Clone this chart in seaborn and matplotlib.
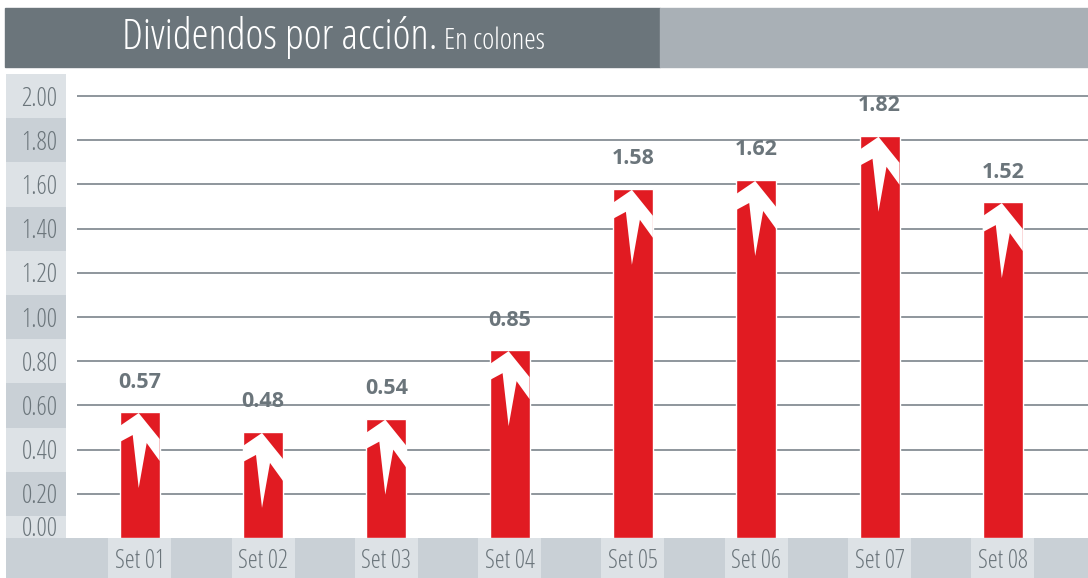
import numpy as np
import matplotlib
matplotlib.use("Agg")
import matplotlib.pyplot as plt
import matplotlib.patches as mpatches
import matplotlib.transforms as mtrans
import seaborn as sns

# data
categories = ["Set 01", "Set 02", "Set 03", "Set 04", "Set 05", "Set 06", "Set 07", "Set 08"]
dividends = [0.57, 0.48, 0.54, 0.85, 1.58, 1.62, 1.82, 1.52]
y_ticks = [0.0, 0.2, 0.4, 0.6, 0.8, 1.0, 1.2, 1.4, 1.6, 1.8, 2.0]

RED = "#e11b22"
DARK = "#6b757b"
LIGHT_BAR = "#a9b0b6"
BAND_LIGHT = "#dde2e6"
BAND_DARK = "#c9d0d6"
GRID = "#8e969c"
TXT = "#6b757b"

sns.set_style("white")
plt.rcParams["font.family"] = ["Open Sans", "DejaVu Sans"]
plt.rcParams["font.stretch"] = "condensed"

W, H = 1088, 578
fig = plt.figure(figsize=(W / 100, H / 100), dpi=100)

# pixel layout helpers
def fx(px):
    return px / W

def fy(px):
    return 1 - px / H

plot_top, plot_bot = 71, 538
ax_left = 77
px_per_cat = 123.3
first_center = 139.7
px_per_unit = 221.0

ymax = (plot_bot - plot_top) / px_per_unit
xlo = -(first_center - ax_left) / px_per_cat
xhi = xlo + (W - ax_left) / px_per_cat

# title bar
fig.patches.append(mpatches.Rectangle((fx(5), fy(67)), fx(660) - fx(5), fy(8) - fy(67),
                                      transform=fig.transFigure, color=DARK, zorder=0))
fig.patches.append(mpatches.Rectangle((fx(660), fy(67)), 1 - fx(660), fy(8) - fy(67),
                                      transform=fig.transFigure, color=LIGHT_BAR, zorder=0))
t1 = fig.text(fx(122), fy(49), "Dividendos por acción.", color="white", fontsize=31,
              va="baseline", ha="left")
fig.canvas.draw()
bb = t1.get_window_extent()
fig.text(bb.x1 / W + fx(7), fy(49), "En colones", color="white", fontsize=21,
         va="baseline", ha="left")

# left band column
ax_y = fig.add_axes([fx(6), fy(plot_bot), fx(66) - fx(6), fy(plot_top) - fy(plot_bot)])
ax_y.set_ylim(0, ymax)
ax_y.set_xlim(0, 1)
for i, t in enumerate(y_ticks):
    ax_y.axhspan(t - 0.1, t + 0.1, color=BAND_LIGHT if i % 2 == 0 else BAND_DARK, lw=0)
ax_y.axis("off")

# main axes
ax = fig.add_axes([fx(ax_left), fy(plot_bot), 1 - fx(ax_left), fy(plot_top) - fy(plot_bot)])
df_bar_w = 40 / px_per_cat
sns.barplot(x=categories, y=dividends, ax=ax, color=RED, width=df_bar_w,
            saturation=1, zorder=3)
ax.set_xlim(xlo, xhi)
ax.set_ylim(0, ymax)
for t in y_ticks[1:]:
    ax.axhline(t, color=GRID, lw=1.4, zorder=1)
ax.set_yticks(y_ticks)
ax.set_yticklabels([f"{t:.2f}" for t in y_ticks], color=TXT, fontsize=18.5)
ax.tick_params(axis="y", length=0, pad=14)
# lift the 0.00 label above the bottom band
zero_lab = ax.get_yticklabels()[0]
zero_lab.set_transform(zero_lab.get_transform() +
                       mtrans.ScaledTranslation(0, 11 / 100, fig.dpi_scale_trans))
ax.set_xticks([])
ax.set_xlabel("")
ax.set_ylabel("")
for s in ax.spines.values():
    s.set_visible(False)
ax.set_facecolor("none")

# arrow decoration on each bar (pixel offsets from bar's top-left corner)
arrow_px = [(19, 1), (0, 14), (0, 30), (13, 23), (19, 76), (27, 31), (40, 49), (40, 27)]
for i, v in enumerate(dividends):
    left = i - df_bar_w / 2
    pts = [(left + px / px_per_cat, v - py / px_per_unit) for px, py in arrow_px]
    ax.add_patch(mpatches.Polygon(pts, closed=True, color="white", lw=0, zorder=4))
    ax.annotate(f"{v:.2f}", (i, v), xytext=(0, 30), textcoords="offset pixels",
                ha="center", va="center", fontsize=15.5, fontweight="bold", color=TXT)

# bottom category band
ax_x = fig.add_axes([fx(6), 0, 1 - fx(6), fy(plot_bot)])
ax_x.set_facecolor(BAND_DARK)
ax_x.set_xlim(xlo - (ax_left - 6) / px_per_cat, xhi)
ax_x.set_ylim(0, 1)
ax_x.bar(range(len(categories)), [1] * len(categories), width=63 / px_per_cat,
         color=BAND_LIGHT, lw=0)
for i, c in enumerate(categories):
    ax_x.text(i, 0.42, c, ha="center", va="center", color=TXT, fontsize=18)
ax_x.set_xticks([])
ax_x.set_yticks([])
for s in ax_x.spines.values():
    s.set_visible(False)

fig.savefig("out.png", dpi=100)
